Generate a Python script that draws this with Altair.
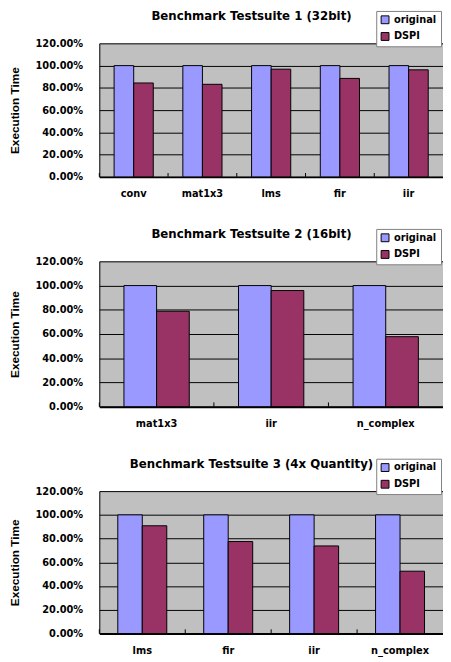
import altair as alt
import pandas as pd

series = ["original", "DSPI"]
colors = ["#9999FF", "#993366"]
y_ticks = [0, 0.2, 0.4, 0.6, 0.8, 1.0, 1.2]

t1 = "Benchmark Testsuite 1 (32bit)"
c1 = ["conv", "mat1x3", "lms", "fir", "iir"]
o1 = [1.0, 1.0, 1.0, 1.0, 1.0]
d1 = [0.844, 0.832, 0.968, 0.885, 0.962]

t2 = "Benchmark Testsuite 2 (16bit)"
c2 = ["mat1x3", "iir", "n_complex"]
o2 = [1.0, 1.0, 1.0]
d2 = [0.788, 0.959, 0.578]

t3 = "Benchmark Testsuite 3 (4x Quantity)"
c3 = ["lms", "fir", "iir", "n_complex"]
o3 = [1.0, 1.0, 1.0, 1.0]
d3 = [0.908, 0.775, 0.738, 0.525]

FONT = "DejaVu Sans"
NARROW = "Liberation Sans Narrow, Liberation Sans, Arial"
PAD_IN = 0.43
PAD_OUT = PAD_IN / 2


def panel(title, cats, orig, dspi, width, height):
    df = pd.DataFrame({
        "bench": cats * 2,
        "series": ["original"] * len(cats) + ["DSPI"] * len(cats),
        "value": orig + dspi,
    })
    x_axis = alt.Axis(labelAngle=0, labelFont=FONT, labelFontWeight="bold",
                      labelFontSize=10, labelColor="black", ticks=False,
                      labelPadding=12, domainColor="black", domainWidth=2,
                      grid=False, title=None)
    x_scale = alt.Scale(paddingInner=PAD_IN, paddingOuter=PAD_OUT)
    y_scale = alt.Scale(domain=[0, 1.2], nice=False)
    y_axis = alt.Axis(values=y_ticks, tickCount=20, format=".2%", labelFont=FONT,
                      labelFontWeight="bold", labelFontSize=10, labelColor="black",
                      labelPadding=17, ticks=False, labelOverlap=False,
                      domainColor="black", domainWidth=1, gridColor="black",
                      gridWidth=1, gridOpacity=1,
                      titleFont=NARROW, titleFontWeight="bold", titleFontSize=12,
                      titleColor="black", titlePadding=14)
    bars = alt.Chart(df).mark_bar(stroke="black", strokeWidth=1).encode(
        x=alt.X("bench:N", sort=cats, scale=x_scale, axis=x_axis),
        xOffset=alt.XOffset("series:N", sort=series,
                            scale=alt.Scale(paddingInner=0, paddingOuter=0)),
        y=alt.Y("value:Q", scale=y_scale, title="Execution Time", axis=y_axis),
        color=alt.Color("series:N", sort=series,
                        scale=alt.Scale(domain=series, range=colors),
                        legend=alt.Legend(orient="none", legendX=282, legendY=-33,
                                          title=None, symbolType="square",
                                          symbolSize=64, symbolStrokeColor="black",
                                          symbolStrokeWidth=1, labelFont=FONT,
                                          labelFontWeight="bold", labelFontSize=10,
                                          labelColor="black", labelOffset=4,
                                          rowPadding=5, padding=4,
                                          strokeColor="#808080", fillColor="white")),
    )
    step = width / len(cats)
    tick_df = pd.DataFrame({"bench": cats})
    ticks = alt.Chart(tick_df).mark_rule(
        color="black", strokeWidth=1, xOffset=-PAD_OUT * step
    ).encode(
        x=alt.X("bench:N", sort=cats, scale=x_scale, axis=x_axis, bandPosition=0),
        y=alt.YDatum(0, scale=y_scale, axis=y_axis, title="Execution Time"),
        y2=alt.Y2Datum(0.035),
    )
    title_df = pd.DataFrame({"title": [title]})
    heading = alt.Chart(title_df).mark_text(
        font=FONT, fontSize=12, fontWeight="bold", color="black",
        align="center", baseline="alphabetic"
    ).encode(text="title:N", x=alt.value(155), y=alt.value(-24))
    return alt.layer(bars, ticks, heading).properties(width=width, height=height)


p1 = panel(t1, c1, o1, d1, 350, 136)
p2 = panel(t2, c2, o2, d2, 350, 148)
p3 = panel(t3, c3, o3, d3, 350, 145)

chart = alt.vconcat(p1, p2, p3, spacing=30).resolve_scale(
    x="independent", xOffset="independent", color="shared"
).resolve_legend(color="independent").properties(
    padding={"left": 0, "top": -4, "right": 0, "bottom": 0}
).configure_view(fill="#C0C0C0", stroke="transparent", strokeWidth=0)

chart.save("out.html", embed_options={"renderer": "svg", "actions": False})
